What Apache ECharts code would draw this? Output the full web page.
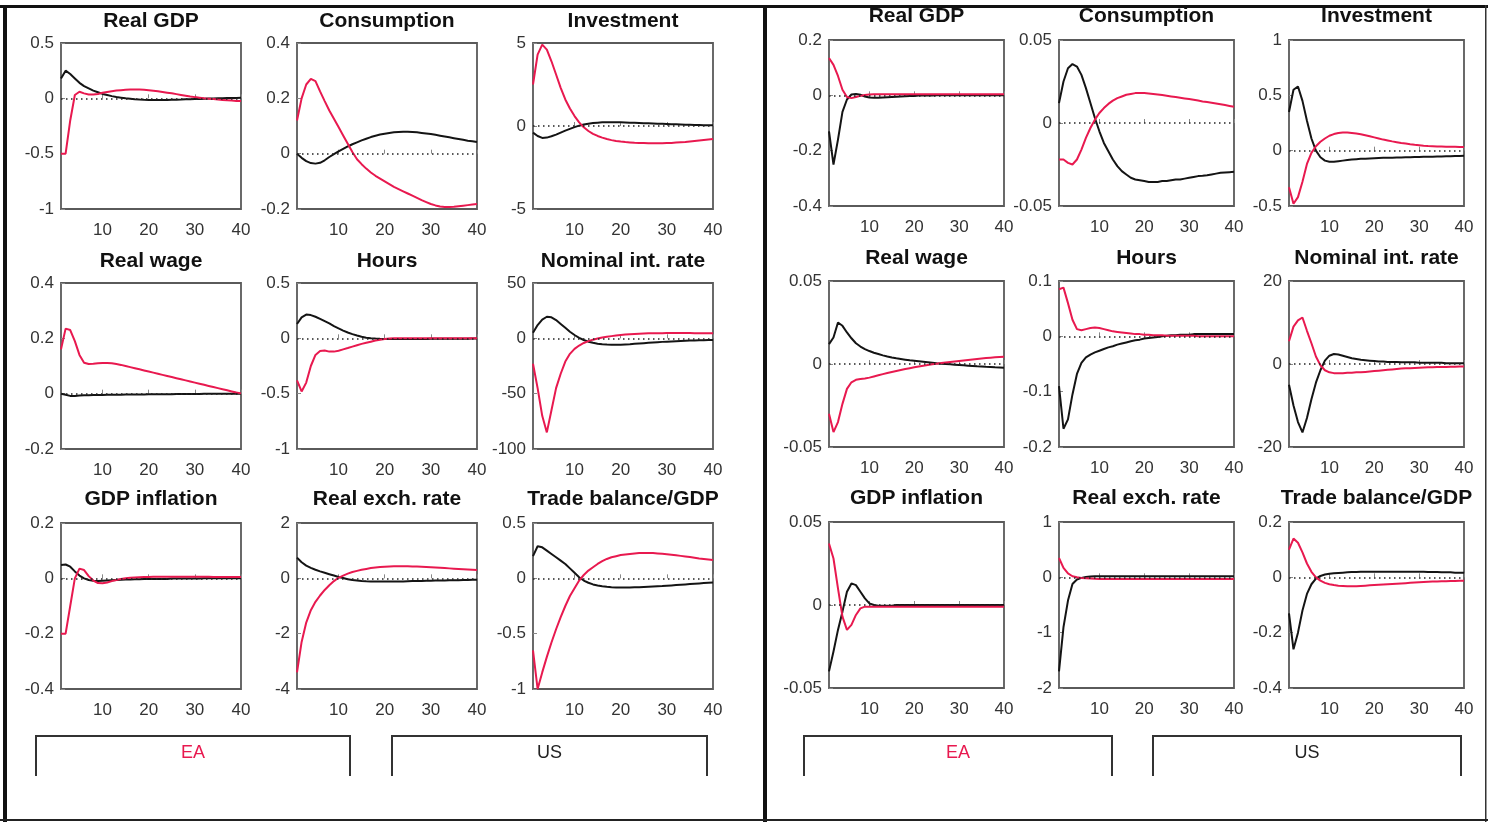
<!DOCTYPE html>
<html><head><meta charset="utf-8">
<script src="https://cdn.jsdelivr.net/npm/echarts@6/dist/echarts.min.js"></script>
<style>html,body{margin:0;padding:0;background:#fff}#c{width:1488px;height:822px}</style>
</head><body><div id="c"></div>
<script>
const periods = [1,2,3,4,5,6,7,8,9,10,11,12,13,14,15,16,17,18,19,20,21,22,23,24,25,26,27,28,29,30,31,32,33,34,35,36,37,38,39,40];
const xTickLabels = [10,20,30,40];
const titles = ['Real GDP','Consumption','Investment','Real wage','Hours','Nominal int. rate','GDP inflation','Real exch. rate','Trade balance/GDP'];
const legendLabels = ['EA','US'];

// ---- Left panel ----
const A_gdp_EA = [-0.5,-0.5,-0.2,0.03,0.06,0.045,0.035,0.035,0.04,0.05,0.058,0.065,0.07,0.074,0.077,0.079,0.08,0.079,0.077,0.073,0.068,0.063,0.057,0.051,0.045,0.038,0.031,0.024,0.017,0.011,0.006,0.001,-0.003,-0.007,-0.011,-0.014,-0.017,-0.02,-0.023,-0.025];
const A_gdp_US = [0.18,0.25,0.22,0.18,0.14,0.11,0.09,0.07,0.055,0.04,0.03,0.02,0.012,0.006,0,-0.004,-0.008,-0.011,-0.013,-0.014,-0.015,-0.015,-0.015,-0.014,-0.013,-0.012,-0.011,-0.009,-0.008,-0.006,-0.005,-0.003,-0.002,-0.001,0,0.001,0.002,0.003,0.004,0.005];
const A_cons_EA = [0.12,0.2,0.25,0.27,0.262,0.225,0.19,0.156,0.126,0.096,0.066,0.036,0.006,-0.02,-0.038,-0.054,-0.068,-0.08,-0.09,-0.1,-0.11,-0.12,-0.128,-0.136,-0.144,-0.152,-0.16,-0.168,-0.175,-0.182,-0.187,-0.191,-0.193,-0.193,-0.192,-0.19,-0.188,-0.186,-0.184,-0.182];
const A_cons_US = [0,-0.015,-0.027,-0.034,-0.036,-0.033,-0.024,-0.012,-0.002,0.008,0.017,0.026,0.034,0.041,0.048,0.054,0.06,0.065,0.069,0.072,0.075,0.077,0.078,0.079,0.079,0.078,0.077,0.075,0.073,0.071,0.068,0.065,0.062,0.059,0.056,0.053,0.05,0.047,0.045,0.042];
const A_inv_EA = [2.5,4.3,4.9,4.6,3.9,3.1,2.3,1.6,1.05,0.6,0.22,-0.08,-0.3,-0.47,-0.6,-0.7,-0.78,-0.85,-0.9,-0.94,-0.97,-0.99,-1.01,-1.02,-1.03,-1.04,-1.04,-1.04,-1.04,-1.03,-1.02,-1.0,-0.98,-0.96,-0.93,-0.9,-0.87,-0.84,-0.81,-0.78];
const A_inv_US = [-0.4,-0.6,-0.72,-0.7,-0.62,-0.52,-0.4,-0.28,-0.17,-0.07,0.02,0.09,0.14,0.18,0.2,0.22,0.23,0.23,0.23,0.22,0.21,0.2,0.19,0.18,0.17,0.16,0.15,0.14,0.13,0.12,0.11,0.1,0.09,0.08,0.07,0.06,0.055,0.05,0.045,0.04];
const A_wage_EA = [0.16,0.235,0.23,0.19,0.14,0.112,0.107,0.108,0.11,0.111,0.111,0.11,0.107,0.104,0.1,0.096,0.092,0.088,0.084,0.08,0.076,0.072,0.068,0.064,0.06,0.056,0.052,0.048,0.044,0.04,0.036,0.032,0.028,0.024,0.02,0.016,0.012,0.008,0.004,0.001];
const A_wage_US = [0,-0.004,-0.008,-0.008,-0.007,-0.006,-0.006,-0.005,-0.005,-0.005,-0.004,-0.004,-0.004,-0.004,-0.003,-0.003,-0.003,-0.003,-0.003,-0.002,-0.002,-0.002,-0.002,-0.002,-0.002,-0.001,-0.001,-0.001,-0.001,-0.001,-0.001,0,0,0,0,0,0,0,0,0];
const A_hours_EA = [-0.38,-0.48,-0.4,-0.25,-0.15,-0.115,-0.11,-0.12,-0.12,-0.112,-0.1,-0.088,-0.075,-0.062,-0.05,-0.04,-0.03,-0.02,-0.012,-0.006,-0.002,0,0,0,0,0,0,0,0,0,0,0,0,0,0,0,0,0,0,0];
const A_hours_US = [0.13,0.19,0.215,0.21,0.195,0.175,0.155,0.135,0.11,0.09,0.07,0.053,0.038,0.025,0.014,0.006,0.001,-0.002,-0.004,-0.005,-0.006,-0.006,-0.006,-0.006,-0.006,-0.005,-0.005,-0.005,-0.005,-0.004,-0.004,-0.004,-0.004,-0.003,-0.003,-0.003,-0.003,-0.003,-0.002,-0.002];
const A_rate_EA = [-23,-45,-70,-85,-65,-45,-32,-21,-14,-9.5,-6.5,-4.2,-2.5,-1.2,-0.2,0.7,1.4,2,2.6,3,3.4,3.7,4,4.2,4.4,4.5,4.6,4.7,4.7,4.8,4.8,4.8,4.8,4.8,4.8,4.7,4.7,4.7,4.6,4.6];
const A_rate_US = [5,12,17,19.5,19,16.5,13,9.5,6,3,0.5,-1.5,-3,-4,-4.8,-5.3,-5.6,-5.8,-5.8,-5.7,-5.5,-5.3,-5,-4.7,-4.4,-4.1,-3.8,-3.5,-3.2,-3,-2.8,-2.6,-2.4,-2.2,-2,-1.9,-1.8,-1.7,-1.6,-1.5];
const A_infl_EA = [-0.2,-0.2,-0.1,0,0.035,0.03,0.008,-0.008,-0.017,-0.018,-0.015,-0.01,-0.006,-0.002,0,0.002,0.003,0.004,0.005,0.005,0.006,0.006,0.006,0.006,0.006,0.006,0.006,0.006,0.006,0.006,0.006,0.006,0.006,0.005,0.005,0.005,0.005,0.005,0.005,0.005];
const A_infl_US = [0.048,0.05,0.042,0.025,0.01,0,-0.006,-0.009,-0.01,-0.009,-0.008,-0.007,-0.006,-0.005,-0.004,-0.004,-0.003,-0.003,-0.002,-0.002,-0.002,-0.002,-0.002,-0.002,-0.001,-0.001,-0.001,-0.001,-0.001,-0.001,-0.001,0,0,0,0,0,0,0,0,0];
const A_rer_EA = [-3.4,-2.3,-1.6,-1.15,-0.85,-0.62,-0.42,-0.25,-0.1,0.02,0.1,0.17,0.23,0.27,0.31,0.34,0.37,0.39,0.41,0.42,0.43,0.44,0.44,0.44,0.44,0.43,0.43,0.42,0.41,0.4,0.39,0.38,0.37,0.36,0.35,0.34,0.33,0.32,0.31,0.3];
const A_rer_US = [0.75,0.58,0.46,0.38,0.31,0.25,0.2,0.15,0.1,0.05,0.01,-0.03,-0.06,-0.08,-0.095,-0.105,-0.11,-0.115,-0.115,-0.115,-0.115,-0.115,-0.11,-0.11,-0.105,-0.1,-0.1,-0.095,-0.09,-0.085,-0.08,-0.08,-0.075,-0.07,-0.07,-0.065,-0.06,-0.06,-0.055,-0.05];
const A_tb_EA = [-0.65,-1.0,-0.85,-0.71,-0.58,-0.46,-0.35,-0.25,-0.16,-0.09,-0.02,0.03,0.07,0.1,0.13,0.155,0.175,0.19,0.2,0.21,0.215,0.22,0.225,0.228,0.23,0.23,0.228,0.225,0.222,0.218,0.213,0.208,0.203,0.198,0.192,0.186,0.18,0.175,0.17,0.165];
const A_tb_US = [0.2,0.29,0.28,0.25,0.22,0.19,0.16,0.13,0.09,0.05,0.01,-0.02,-0.04,-0.055,-0.065,-0.072,-0.077,-0.08,-0.082,-0.083,-0.083,-0.082,-0.081,-0.08,-0.078,-0.076,-0.074,-0.072,-0.07,-0.067,-0.064,-0.061,-0.058,-0.055,-0.052,-0.049,-0.046,-0.043,-0.04,-0.037];

// ---- Right panel ----
const B_gdp_EA = [0.135,0.11,0.07,0.02,-0.006,-0.01,-0.006,-0.002,0.001,0.003,0.004,0.004,0.004,0.004,0.004,0.004,0.004,0.004,0.004,0.004,0.004,0.004,0.004,0.004,0.004,0.004,0.004,0.004,0.004,0.004,0.004,0.004,0.004,0.004,0.004,0.004,0.004,0.004,0.004,0.004];
const B_gdp_US = [-0.13,-0.25,-0.16,-0.06,-0.015,0.003,0.005,0.002,-0.004,-0.008,-0.009,-0.009,-0.008,-0.007,-0.006,-0.005,-0.004,-0.003,-0.002,-0.002,-0.001,-0.001,-0.001,-0.001,0,0,0,0,0,0,0,0,0,0,0,0,0,0,0,0];
const B_cons_EA = [-0.022,-0.022,-0.024,-0.025,-0.022,-0.016,-0.009,-0.003,0.002,0.006,0.009,0.0115,0.0135,0.015,0.016,0.017,0.0175,0.018,0.018,0.018,0.0178,0.0175,0.0172,0.0168,0.0164,0.016,0.0156,0.0152,0.0148,0.0144,0.014,0.0135,0.013,0.0126,0.0122,0.0118,0.0113,0.0108,0.0103,0.0098];
const B_cons_US = [0.012,0.025,0.033,0.0355,0.034,0.029,0.021,0.012,0.003,-0.005,-0.012,-0.017,-0.022,-0.026,-0.029,-0.031,-0.033,-0.034,-0.0345,-0.035,-0.0355,-0.0355,-0.0355,-0.035,-0.035,-0.0345,-0.034,-0.034,-0.0335,-0.033,-0.0325,-0.032,-0.0318,-0.0315,-0.031,-0.0305,-0.03,-0.0298,-0.0296,-0.0294];
const B_inv_EA = [-0.33,-0.48,-0.42,-0.28,-0.12,-0.02,0.04,0.08,0.11,0.135,0.15,0.16,0.165,0.165,0.16,0.155,0.148,0.14,0.13,0.12,0.11,0.1,0.092,0.084,0.077,0.07,0.064,0.058,0.053,0.049,0.045,0.042,0.04,0.038,0.037,0.036,0.035,0.035,0.034,0.034];
const B_inv_US = [0.35,0.55,0.58,0.45,0.27,0.11,0,-0.06,-0.09,-0.1,-0.1,-0.095,-0.09,-0.085,-0.08,-0.077,-0.074,-0.072,-0.07,-0.068,-0.066,-0.065,-0.064,-0.063,-0.062,-0.061,-0.06,-0.059,-0.058,-0.057,-0.056,-0.055,-0.054,-0.053,-0.052,-0.051,-0.05,-0.049,-0.048,-0.047];
const B_wage_EA = [-0.03,-0.041,-0.035,-0.024,-0.015,-0.011,-0.0095,-0.009,-0.0087,-0.0082,-0.0075,-0.0068,-0.0061,-0.0054,-0.0048,-0.0042,-0.0036,-0.003,-0.0025,-0.002,-0.0015,-0.001,-0.0006,-0.0002,0.0002,0.0006,0.0009,0.0012,0.0015,0.0018,0.0021,0.0024,0.0027,0.003,0.0033,0.0036,0.0038,0.004,0.0042,0.0044];
const B_wage_US = [0.012,0.016,0.025,0.023,0.019,0.0155,0.0125,0.0105,0.009,0.0078,0.0068,0.006,0.0052,0.0045,0.0039,0.0034,0.003,0.0026,0.0022,0.0019,0.0016,0.0013,0.001,0.0007,0.0004,0.0002,0,-0.0002,-0.0004,-0.0006,-0.0008,-0.001,-0.0012,-0.0014,-0.0015,-0.0017,-0.0018,-0.002,-0.0021,-0.0022];
const B_hours_EA = [0.085,0.088,0.06,0.03,0.013,0.011,0.013,0.015,0.016,0.015,0.013,0.011,0.009,0.008,0.007,0.006,0.005,0.004,0.004,0.003,0.003,0.002,0.002,0.002,0.001,0.001,0.001,0.001,0.001,0.001,0.001,0,0,0,0,0,0,0,0,0];
const B_hours_US = [-0.09,-0.167,-0.15,-0.105,-0.068,-0.048,-0.038,-0.033,-0.029,-0.026,-0.023,-0.02,-0.018,-0.015,-0.013,-0.011,-0.009,-0.007,-0.006,-0.004,-0.003,-0.002,-0.001,0,0.001,0.002,0.002,0.003,0.003,0.003,0.004,0.004,0.004,0.004,0.004,0.004,0.004,0.004,0.004,0.004];
const B_rate_EA = [5.5,9,10.5,11.2,8,5,1.8,-0.3,-1.5,-2,-2.2,-2.2,-2.2,-2.1,-2.1,-2,-2,-1.9,-1.8,-1.7,-1.6,-1.5,-1.4,-1.3,-1.2,-1.1,-1.05,-1,-0.95,-0.9,-0.85,-0.8,-0.8,-0.75,-0.7,-0.7,-0.65,-0.65,-0.6,-0.6];
const B_rate_US = [-5,-10,-14,-16.5,-13,-8.5,-4.5,-1.5,0.8,2,2.4,2.3,2,1.7,1.4,1.2,1,0.9,0.8,0.7,0.6,0.6,0.5,0.5,0.5,0.4,0.4,0.4,0.4,0.3,0.3,0.3,0.3,0.3,0.3,0.2,0.2,0.2,0.2,0.2];
const B_infl_EA = [0.037,0.028,0.01,-0.007,-0.015,-0.012,-0.006,-0.002,-0.001,-0.001,-0.001,-0.001,-0.001,-0.001,-0.001,-0.001,-0.001,-0.001,-0.001,-0.001,-0.001,-0.001,-0.001,-0.001,-0.001,-0.001,-0.001,-0.001,-0.001,-0.001,-0.001,-0.001,-0.001,-0.001,-0.001,-0.001,-0.001,-0.001,-0.001,-0.001];
const B_infl_US = [-0.04,-0.028,-0.015,-0.004,0.008,0.013,0.012,0.008,0.004,0.001,0,-0.0005,-0.0005,-0.0005,-0.0005,0,0,0,0,0,0,0,0,0,0,0,0,0,0,0,0,0,0,0,0,0,0,0,0,0];
const B_rer_EA = [0.35,0.17,0.07,0.02,0,-0.01,-0.015,-0.02,-0.025,-0.028,-0.03,-0.03,-0.03,-0.03,-0.03,-0.03,-0.03,-0.03,-0.03,-0.03,-0.03,-0.03,-0.03,-0.03,-0.03,-0.03,-0.03,-0.03,-0.03,-0.03,-0.03,-0.03,-0.03,-0.03,-0.03,-0.03,-0.03,-0.03,-0.03,-0.03];
const B_rer_US = [-1.7,-0.9,-0.42,-0.12,-0.04,-0.01,0.005,0.015,0.02,0.02,0.02,0.02,0.02,0.02,0.02,0.02,0.02,0.02,0.02,0.02,0.02,0.02,0.02,0.02,0.02,0.02,0.02,0.02,0.02,0.02,0.02,0.02,0.02,0.02,0.02,0.02,0.02,0.02,0.02,0.02];
const B_tb_EA = [0.1,0.14,0.125,0.09,0.05,0.02,0,-0.012,-0.02,-0.025,-0.028,-0.03,-0.031,-0.032,-0.032,-0.032,-0.031,-0.03,-0.029,-0.028,-0.027,-0.026,-0.025,-0.024,-0.023,-0.022,-0.021,-0.02,-0.019,-0.018,-0.017,-0.016,-0.015,-0.015,-0.014,-0.014,-0.013,-0.013,-0.012,-0.012];
const B_tb_US = [-0.13,-0.26,-0.2,-0.12,-0.06,-0.025,-0.005,0.005,0.01,0.013,0.015,0.016,0.017,0.018,0.019,0.019,0.02,0.02,0.02,0.02,0.02,0.02,0.02,0.02,0.02,0.02,0.02,0.02,0.02,0.02,0.02,0.019,0.019,0.019,0.018,0.018,0.018,0.017,0.017,0.017];

// y-axis scales [min, max, interval] for each subplot
const A_yScale = [[-1,0.5,0.5],[-0.2,0.4,0.2],[-5,5,5],[-0.2,0.4,0.2],[-1,0.5,0.5],[-100,50,50],[-0.4,0.2,0.2],[-4,2,2],[-1,0.5,0.5]];
const B_yScale = [[-0.4,0.2,0.2],[-0.05,0.05,0.05],[-0.5,1,0.5],[-0.05,0.05,0.05],[-0.2,0.1,0.1],[-20,20,20],[-0.05,0.05,0.05],[-2,1,1],[-0.4,0.2,0.2]];

const A_EA = [A_gdp_EA,A_cons_EA,A_inv_EA,A_wage_EA,A_hours_EA,A_rate_EA,A_infl_EA,A_rer_EA,A_tb_EA];
const A_US = [A_gdp_US,A_cons_US,A_inv_US,A_wage_US,A_hours_US,A_rate_US,A_infl_US,A_rer_US,A_tb_US];
const B_EA = [B_gdp_EA,B_cons_EA,B_inv_EA,B_wage_EA,B_hours_EA,B_rate_EA,B_infl_EA,B_rer_EA,B_tb_EA];
const B_US = [B_gdp_US,B_cons_US,B_inv_US,B_wage_US,B_hours_US,B_rate_US,B_infl_US,B_rer_US,B_tb_US];

// ---- layout / style ----
const RED = '#e8194f', BLACK = '#141414';
const FONT = 'Liberation Sans, Arial, sans-serif';
const panels = [
  {cols:[61,297,533], w:180, rows:[43,283,523], h:166, titleY:[21,261,499], ea:A_EA, us:A_US, sc:A_yScale,
   legend:[[36,350],[392,707]]},
  {cols:[829,1059,1289], w:175, rows:[40,281,522], h:166, titleY:[16,258,498], ea:B_EA, us:B_US, sc:B_yScale,
   legend:[[804,1112],[1153,1461]]}
];

const grid=[], xAxis=[], yAxis=[], series=[], graphic=[];
let gi = 0;
panels.forEach(p => {
  for (let k = 0; k < 9; k++) {
    const r = Math.floor(k/3), c = k%3;
    const left = p.cols[c], top = p.rows[r];
    grid.push({left:left, top:top, width:p.w, height:p.h, show:true, borderColor:'#5a5a5a', borderWidth:1.8, backgroundColor:'#fff', containLabel:false});
    xAxis.push({type:'category', gridIndex:gi, data:periods, boundaryGap:false,
      axisLine:{show:false},
      axisTick:{show:true, inside:true, length:4, lineStyle:{color:'#888'}, interval:(i,v)=>xTickLabels.includes(+v)},
      axisLabel:{show:true, margin:13, fontSize:17, fontFamily:FONT, color:'#333', interval:(i,v)=>xTickLabels.includes(+v)},
      splitLine:{show:false}});
    const s = p.sc[k];
    yAxis.push({type:'value', gridIndex:gi, min:s[0], max:s[1], interval:s[2],
      axisLine:{show:false},
      axisTick:{show:true, inside:true, length:4, lineStyle:{color:'#888'}},
      axisLabel:{show:true, margin:7, fontSize:17, fontFamily:FONT, color:'#333'},
      splitLine:{show:false}});
    series.push({type:'line', xAxisIndex:gi, yAxisIndex:gi, data:p.us[k], showSymbol:false, symbol:'none',
      lineStyle:{color:BLACK, width:2}, z:3, animation:false,
      markLine:{silent:true, symbol:'none', animation:false, label:{show:false},
        lineStyle:{color:'#222', width:1.5, type:[1.5,3.5]}, data:[{yAxis:0}]}});
    series.push({type:'line', xAxisIndex:gi, yAxisIndex:gi, data:p.ea[k], showSymbol:false, symbol:'none',
      lineStyle:{color:RED, width:2}, z:4, animation:false});
    graphic.push({type:'text', x:left + p.w/2, y:p.titleY[r], z:10,
      style:{text:titles[k], fill:'#111', font:'bold 21px ' + FONT, textAlign:'center', textVerticalAlign:'middle'}});
    gi++;
  }
  // legend boxes (open at the bottom)
  p.legend.forEach((lg, j) => {
    graphic.push({type:'polyline', z:10, shape:{points:[[lg[0],776],[lg[0],736],[lg[1],736],[lg[1],776]]},
      style:{stroke:'#333', lineWidth:2, fill:null}});
    graphic.push({type:'text', x:(lg[0]+lg[1])/2, y:753, z:10,
      style:{text:legendLabels[j], fill: j===0 ? RED : '#222', font:'18px ' + FONT, textAlign:'center', textVerticalAlign:'middle'}});
  });
});

// outer frame
graphic.push({type:'rect', z:20, shape:{x:0,y:0,width:1488,height:5}, style:{fill:'#fff'}});
graphic.push({type:'rect', z:21, shape:{x:0,y:5,width:1488,height:3}, style:{fill:'#111'}});
graphic.push({type:'rect', z:21, shape:{x:3,y:5,width:4,height:817}, style:{fill:'#111'}});
graphic.push({type:'rect', z:21, shape:{x:763,y:5,width:4,height:817}, style:{fill:'#111'}});
graphic.push({type:'rect', z:21, shape:{x:1485,y:5,width:1.5,height:817}, style:{fill:'#333'}});
graphic.push({type:'rect', z:21, shape:{x:0,y:819,width:1488,height:2}, style:{fill:'#222'}});

const chart = echarts.init(document.getElementById('c'), null, {renderer:'canvas'});
chart.setOption({animation:false, backgroundColor:'#fff', grid, xAxis, yAxis, series, graphic});
</script></body></html>
